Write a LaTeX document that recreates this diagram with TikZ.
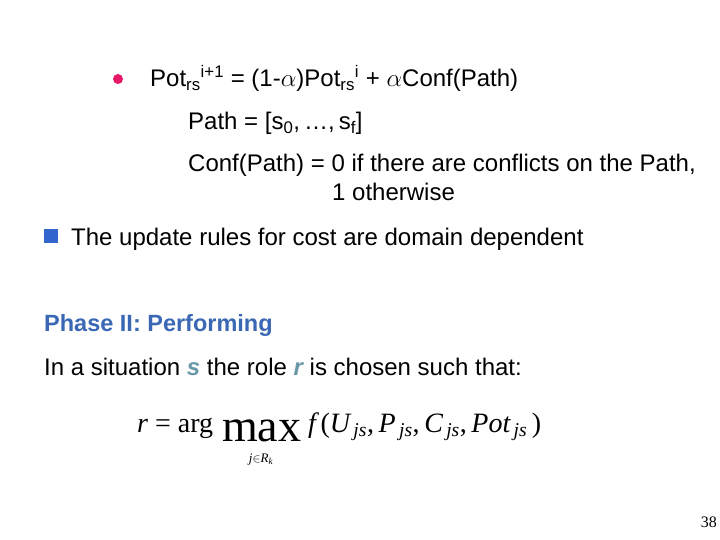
\documentclass[tikz,border=0pt]{standalone}
\usepackage{fontspec}
\setmainfont{Liberation Sans}
\newfontfamily\tserif{Liberation Serif}
\definecolor{pink}{HTML}{E6186A}
\definecolor{sqblue}{HTML}{3366CC}
\definecolor{phblue}{HTML}{3A68B4}
\definecolor{teal}{HTML}{6A98A8}
\begin{document}
\begin{tikzpicture}[x=1pt,y=-1pt,
  txt/.style={anchor=base west,inner sep=0pt,font=\fontsize{24}{28}\selectfont},
  fm/.style={anchor=base west,inner sep=0pt,font=\tserif\fontsize{28}{30}\selectfont}]
\useasboundingbox (0,0) rectangle (720,540);
\fill[pink] (118,79) circle (5) coordinate (b1);
\node[txt] (l1) at (150,87) {Pot\textsubscript{rs}\textsuperscript{i+1} = (1-$\alpha$)Pot\textsubscript{rs}\textsuperscript{i} + $\alpha$Conf(Path)};
\node[txt] (l2) at (188,130) {Path = [s\textsubscript{0},\,\ldots,\,s\textsubscript{f}]};
\node[txt] (l3) at (188,172) {Conf(Path) = 0 if there are conflicts on the Path,};
\node[txt] (l4) at (332,201) {1 otherwise};
\fill[sqblue] (44,229) rectangle (58,243);
\node[txt] (l5) at (71,245) {The update rules for cost are domain dependent};
\node[txt,text=phblue,font=\bfseries\fontsize{23.5}{28}\selectfont] (ph) at (44,331) {Phase II: Performing};
\node[txt] (l6) at (44,375) {In a situation {\color{teal}\bfseries\itshape s} the role {\color{teal}\bfseries\itshape r} is chosen such that:};
\node[fm] (f1) at (137,432) {\itshape r\upshape\ = arg};
\node[fm,font=\tserif\fontsize{46}{46}\selectfont] (f2) at (222,441) {max};
\node[anchor=base,inner sep=0pt,font=\tserif\itshape\fontsize{13}{13}\selectfont] (f3) at (261,462) {j$\in$R\textsubscript{k}};
\node[fm] (f4) at (308,432) {\itshape f\upshape\,(\itshape U\textsubscript{\,js}\upshape,\,\itshape P\textsubscript{\,js}\upshape,\,\itshape C\textsubscript{\,js}\upshape,\,\itshape Pot\textsubscript{\,js}\upshape\,)};
\node[anchor=base east,inner sep=0pt,font=\tserif\fontsize{16}{16}\selectfont] (pg) at (717,527) {38};
\end{tikzpicture}
\end{document}
